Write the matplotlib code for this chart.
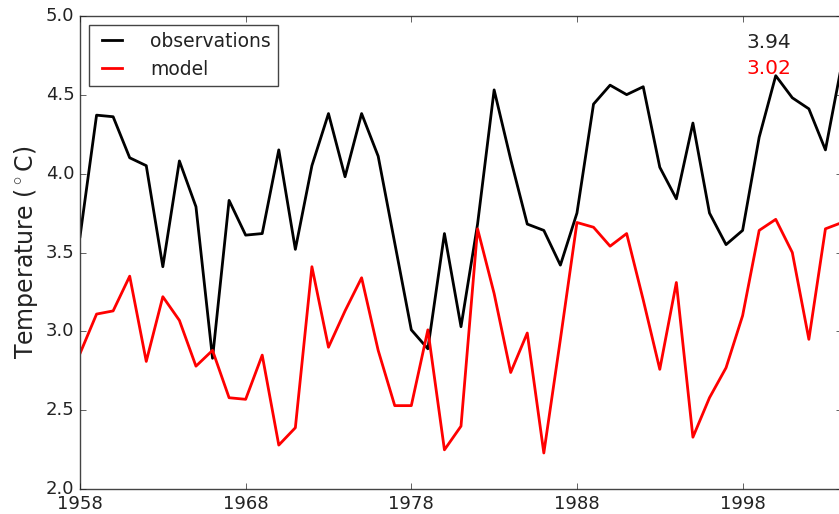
import numpy as np
import matplotlib
matplotlib.use('Agg')
import matplotlib.pyplot as plt

plt.style.use('classic')
plt.rcParams['axes.formatter.useoffset'] = False

# annual mean temperatures, 1958-2004
years = np.arange(1958, 2005)

observations = [3.60, 4.37, 4.36, 4.10, 4.05, 3.41, 4.08, 3.79, 2.83, 3.83,
                3.61, 3.62, 4.15, 3.52, 4.05, 4.38, 3.98, 4.38, 4.11, 3.56,
                3.01, 2.89, 3.62, 3.03, 3.68, 4.53, 4.09, 3.68, 3.64, 3.42,
                3.75, 4.44, 4.56, 4.50, 4.55, 4.04, 3.84, 4.32, 3.75, 3.55,
                3.64, 4.23, 4.62, 4.48, 4.41, 4.15, 4.70]

model = [2.86, 3.11, 3.13, 3.35, 2.81, 3.22, 3.07, 2.78, 2.88, 2.58,
         2.57, 2.85, 2.28, 2.39, 3.41, 2.90, 3.13, 3.34, 2.88, 2.53,
         2.53, 3.01, 2.25, 2.40, 3.65, 3.24, 2.74, 2.99, 2.23, 2.95,
         3.69, 3.66, 3.54, 3.62, 3.20, 2.76, 3.31, 2.33, 2.58, 2.77,
         3.10, 3.64, 3.71, 3.50, 2.95, 3.65, 3.69]

mean_labels = ['3.94', '3.02']

fig = plt.figure(figsize=(8.39, 5.14), dpi=100, facecolor='white')
ax = fig.add_axes([80 / 839, 24.7 / 514, 762 / 839, 473.6 / 514])
ax.set_facecolor('white')

ax.plot(years, observations, color='black', lw=2, label='observations')
ax.plot(years, model, color='red', lw=2, label='model')

ax.set_xlim(1958, 2004)
ax.set_ylim(2.0, 5.0)
ax.set_xticks([1958, 1968, 1978, 1988, 1998])
ax.set_yticks(np.arange(2.0, 5.01, 0.5))
ax.tick_params(labelsize=13, colors='#222222')
ax.tick_params(axis='x', pad=4)
ax.tick_params(axis='y', pad=4)
for sp in ax.spines.values():
    sp.set_color('#444444')

ax.set_ylabel(r'Temperature ($^\circ$C)', fontsize=17, labelpad=4,
              color='#222222')

leg = ax.legend(loc='upper left', fontsize=13.5, handlelength=1.7,
                handletextpad=1.2, borderpad=0.35, borderaxespad=0.5)
leg.get_frame().set_edgecolor('#444444')
for t in leg.get_texts():
    t.set_color('#222222')

ax.text(0.875, 0.944, mean_labels[0], color='#222222', fontsize=14.5,
        transform=ax.transAxes, va='center', ha='left')
ax.text(0.875, 0.888, mean_labels[1], color='red', fontsize=14.5,
        transform=ax.transAxes, va='center', ha='left')

fig.savefig('out.png', dpi=100, facecolor='white')
